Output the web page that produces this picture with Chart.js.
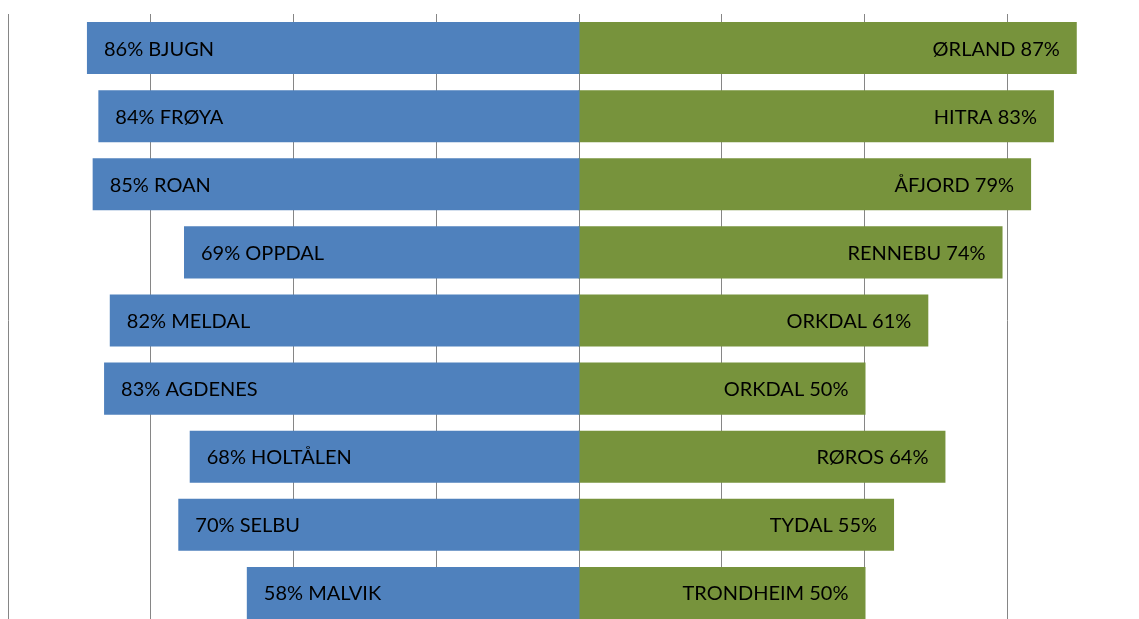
<!DOCTYPE html>
<html>
<head>
<meta charset="utf-8">
<script src="https://cdn.jsdelivr.net/npm/chart.js@4/dist/chart.umd.min.js"></script>
<style>
  html, body { margin: 0; padding: 0; overflow: hidden; background: #fff; }
  #wrap { width: 1139px; height: 627px; }
</style>
</head>
<body>
<div id="wrap"><canvas id="butterfly"></canvas></div>
<script>
// kommuner, venstre og høyre side
var leftNames = ['BJUGN', 'FRØYA', 'ROAN', 'OPPDAL', 'MELDAL', 'AGDENES', 'HOLTÅLEN', 'SELBU', 'MALVIK'];
var leftValues = [86, 84, 85, 69, 82, 83, 68, 70, 58];
var rightNames = ['ØRLAND', 'HITRA', 'ÅFJORD', 'RENNEBU', 'ORKDAL', 'ORKDAL', 'RØROS', 'TYDAL', 'TRONDHEIM'];
var rightValues = [87, 83, 79, 74, 61, 50, 64, 55, 50];
var gridTicks = [-100, -75, -50, -25, 0, 25, 50, 75];

// tekst inne i søylene
var barLabels = {
    id: 'barLabels',
    afterDatasetsDraw: function(chart) {
        var ctx = chart.ctx;
        ctx.save();
        ctx.font = '20px Lato, "Open Sans", sans-serif';
        ctx.fillStyle = '#000000';
        ctx.textBaseline = 'middle';
        chart.getDatasetMeta(0).data.forEach(function(bar, i) {
            ctx.textAlign = 'left';
            ctx.fillText(leftValues[i] + '% ' + leftNames[i], bar.x + 16, bar.y + 1);
        });
        chart.getDatasetMeta(1).data.forEach(function(bar, i) {
            ctx.textAlign = 'right';
            ctx.fillText(rightNames[i] + ' ' + rightValues[i] + '%', bar.x - 16, bar.y + 1);
        });
        ctx.restore();
    }
};

var ctx = document.getElementById('butterfly').getContext('2d');
var chart = new Chart(ctx, {
    type: 'bar',
    data: {
        labels: leftNames.map(function(n, i) { return n + ' / ' + rightNames[i]; }),
        datasets: [{
            label: 'Venstre',
            data: leftValues.map(function(v) { return -v; }),
            backgroundColor: '#4F81BD',
            categoryPercentage: 50 / 68,
            barPercentage: 1,
            inflateAmount: 1
        }, {
            label: 'Høyre',
            data: rightValues,
            backgroundColor: '#77933C',
            categoryPercentage: 50 / 68,
            barPercentage: 1,
            inflateAmount: 1
        }]
    },
    options: {
        indexAxis: 'y',
        responsive: true,
        maintainAspectRatio: false,
        animation: false,
        layout: { padding: { top: 14, left: 8, right: 0, bottom: 0 } },
        plugins: {
            legend: { display: false },
            tooltip: { enabled: false }
        },
        scales: {
            x: {
                stacked: true,
                min: -100,
                max: 113100 / 571 - 100,
                afterBuildTicks: function(axis) {
                    axis.ticks = gridTicks.map(function(v) { return { value: v }; });
                },
                ticks: { display: false },
                border: { display: false },
                grid: { color: '#868686', lineWidth: 1, drawTicks: false }
            },
            y: {
                stacked: true,
                display: false
            }
        }
    },
    plugins: [barLabels]
});
</script>
</body>
</html>
